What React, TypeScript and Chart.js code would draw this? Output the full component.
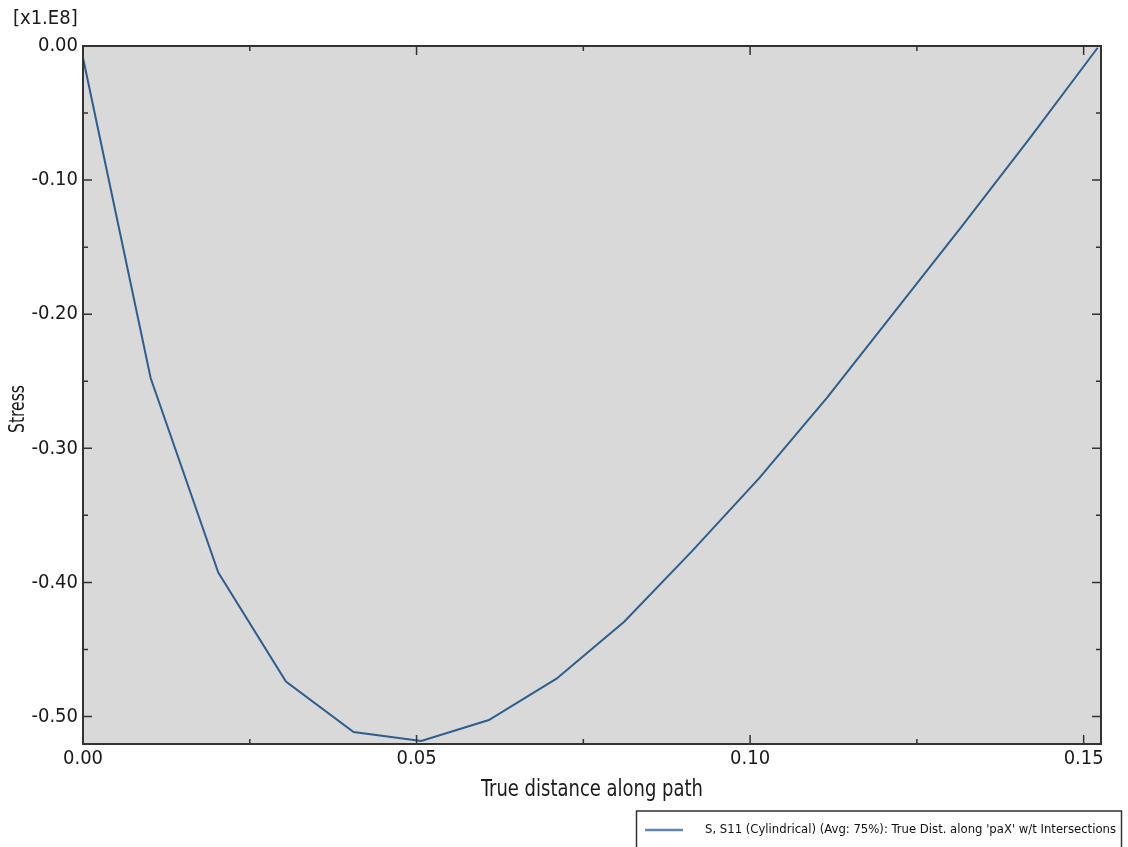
import React, { useEffect, useRef } from "react";
import { Chart, registerables } from "chart.js";

Chart.register(...registerables);

// True distance along path
const distances = [
  0.0, 0.01014, 0.02028, 0.03042, 0.04056, 0.0507, 0.06084, 0.07098, 0.08112, 0.09126, 0.1014,
  0.11154, 0.12168, 0.13182, 0.14196, 0.1521,
];
// Stress [x1.E8]
const stress = [
  -0.0088, -0.2476, -0.3927, -0.474, -0.5116, -0.5183, -0.5026, -0.4718, -0.4293, -0.3769,
  -0.322, -0.2622, -0.1981, -0.134, -0.0685, -0.0013,
];
const xTickValues = [0, 0.05, 0.1, 0.15];
const yTickValues = [0, -0.1, -0.2, -0.3, -0.4, -0.5];
const seriesLabel = "S, S11 (Cylindrical) (Avg: 75%): True Dist. along 'paX' w/t Intersections";
const xTitle = "True distance along path";
const yTitle = "Stress";
const multiplier = "[x1.E8]";

const TICK_FONT = '"DejaVu Sans Condensed", "Liberation Sans Narrow", "DejaVu Sans", sans-serif';
const TITLE_FONT = '"Liberation Sans Narrow", "DejaVu Sans Condensed", "Liberation Sans", sans-serif';

const framePlugin = {
  id: "framePlugin",
  beforeDraw(chart: any) {
    const { ctx, chartArea: a } = chart;
    ctx.save();
    ctx.fillStyle = "#ffffff";
    ctx.fillRect(0, 0, chart.width, chart.height);
    ctx.fillStyle = "#d9d9d9";
    ctx.fillRect(a.left, a.top, a.right - a.left, a.bottom - a.top);
    ctx.restore();
  },
  afterDatasetsDraw(chart: any) {
    const { ctx, chartArea: a } = chart;
    const xs = chart.scales.x;
    const ys = chart.scales.y;
    ctx.save();
    ctx.strokeStyle = "#333333";
    ctx.lineWidth = 2;
    ctx.strokeRect(a.left, a.top, a.right - a.left, a.bottom - a.top);
    ctx.lineWidth = 1.5;
    const major = 9;
    const minor = 5;
    const xMinor: number[] = [];
    for (let i = 0; i < xTickValues.length - 1; i++) xMinor.push((xTickValues[i] + xTickValues[i + 1]) / 2);
    const yMinor: number[] = [];
    for (let i = 0; i < yTickValues.length - 1; i++) yMinor.push((yTickValues[i] + yTickValues[i + 1]) / 2);
    const drawX = (v: number, len: number) => {
      const px = xs.getPixelForValue(v);
      if (px < a.left - 0.5 || px > a.right + 0.5) return;
      ctx.beginPath();
      ctx.moveTo(px, a.bottom);
      ctx.lineTo(px, a.bottom - len);
      ctx.moveTo(px, a.top);
      ctx.lineTo(px, a.top + len);
      ctx.stroke();
    };
    const drawY = (v: number, len: number) => {
      const py = ys.getPixelForValue(v);
      if (py < a.top - 0.5 || py > a.bottom + 0.5) return;
      ctx.beginPath();
      ctx.moveTo(a.left, py);
      ctx.lineTo(a.left + len, py);
      ctx.moveTo(a.right, py);
      ctx.lineTo(a.right - len, py);
      ctx.stroke();
    };
    xTickValues.forEach((v) => drawX(v, major));
    xMinor.forEach((v) => drawX(v, minor));
    yTickValues.forEach((v) => drawY(v, major));
    yMinor.forEach((v) => drawY(v, minor));
    ctx.restore();
  },
  afterDraw(chart: any) {
    const { ctx } = chart;
    ctx.save();
    ctx.fillStyle = "#1a1a1a";
    // multiplier
    ctx.font = `20px ${TICK_FONT}`;
    ctx.textAlign = "left";
    ctx.textBaseline = "top";
    ctx.fillText(multiplier, 13, 9, 67);
    // x title
    ctx.font = `23px ${TITLE_FONT}`;
    ctx.textAlign = "center";
    ctx.textBaseline = "middle";
    ctx.fillText(xTitle, 592, 790, 222);
    // y title
    ctx.save();
    ctx.translate(19, 409);
    ctx.rotate(-Math.PI / 2);
    ctx.font = `21px ${TITLE_FONT}`;
    ctx.fillText(yTitle, 0, 0, 48);
    ctx.restore();
    // legend box
    ctx.strokeStyle = "#333333";
    ctx.lineWidth = 1.5;
    ctx.fillStyle = "#ffffff";
    ctx.fillRect(636.5, 811, 485, 40);
    ctx.strokeRect(636.5, 811, 485, 40);
    ctx.strokeStyle = "#5f86ad";
    ctx.lineWidth = 2.5;
    ctx.beginPath();
    ctx.moveTo(645, 830);
    ctx.lineTo(683, 830);
    ctx.stroke();
    ctx.fillStyle = "#111111";
    ctx.font = `12px ${TICK_FONT}`;
    ctx.textAlign = "left";
    ctx.textBaseline = "middle";
    const label = chart.data.datasets[0].label;
    const w = ctx.measureText(label).width;
    const target = 411;
    ctx.save();
    ctx.translate(705, 830);
    ctx.scale(target / w, 1);
    ctx.fillText(label, 0, 0);
    ctx.restore();
    ctx.restore();
  },
};

export default function App() {
  const ref = useRef<HTMLCanvasElement | null>(null);
  useEffect(() => {
    if (!ref.current) return;
    const chart = new Chart(ref.current, {
      type: "line",
      data: {
        datasets: [
          {
            label: seriesLabel,
            data: distances.map((x, i) => ({ x, y: stress[i] })),
            borderColor: "#2f5e8c",
            borderWidth: 2,
            pointRadius: 0,
            tension: 0,
            fill: false,
          },
        ],
      },
      options: {
        responsive: false,
        animation: false,
        layout: { padding: { top: 46, right: 27, left: 0, bottom: 0 } },
        plugins: { legend: { display: false }, tooltip: { enabled: false } },
        scales: {
          x: {
            type: "linear",
            min: 0,
            max: 0.1526,
            afterBuildTicks: (s: any) => {
              s.ticks = xTickValues.map((v) => ({ value: v }));
            },
            afterFit: (s: any) => {
              s.height = 103;
            },
            grid: { display: true, drawOnChartArea: false, drawTicks: false },
            border: { display: false },
            ticks: {
              padding: 3,
              color: "#1a1a1a",
              font: { family: TICK_FONT, size: 20 },
              maxRotation: 0,
              callback: (v: any) => Number(v).toFixed(2),
            },
          },
          y: {
            type: "linear",
            min: -0.5205,
            max: 0,
            afterBuildTicks: (s: any) => {
              s.ticks = yTickValues.map((v) => ({ value: v }));
            },
            afterFit: (s: any) => {
              s.width = 83;
            },
            grid: { display: true, drawOnChartArea: false, drawTicks: false },
            border: { display: false },
            ticks: {
              padding: 5,
              color: "#1a1a1a",
              font: { family: TICK_FONT, size: 20 },
              callback: (v: any) => Number(v).toFixed(2),
            },
          },
        },
      },
      plugins: [framePlugin],
    } as any);
    return () => chart.destroy();
  }, []);
  return (
    <div style={{ position: "fixed", left: 0, top: 0, width: 1128, height: 847 }}>
      <canvas ref={ref} width={1128} height={847} style={{ display: "block" }} />
    </div>
  );
}
